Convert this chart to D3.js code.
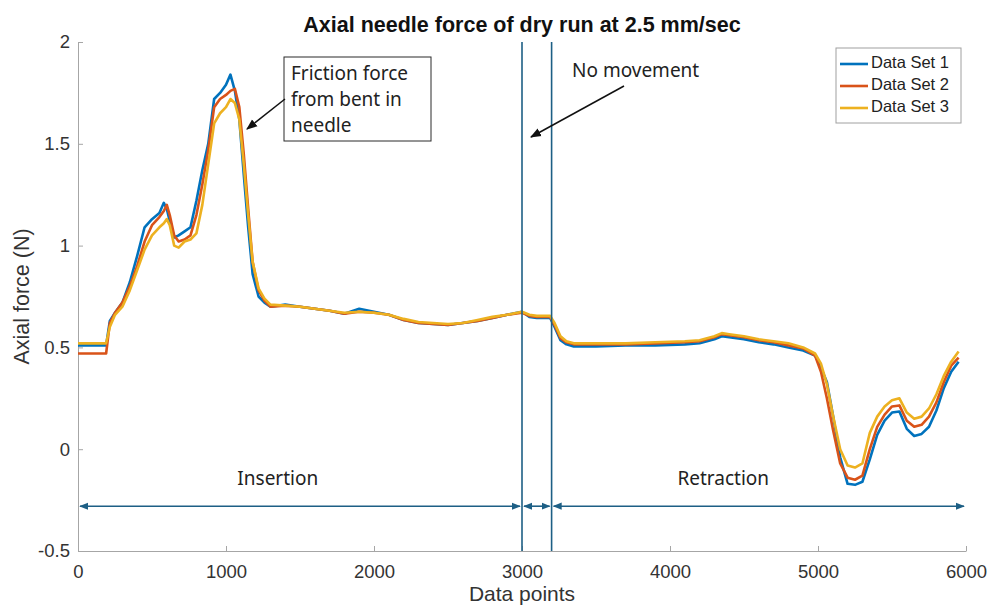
<!DOCTYPE html>
<html>
<head>
<meta charset="utf-8">
<script src="https://cdn.jsdelivr.net/npm/d3@7"></script>
<style>
  body { margin: 0; background: #fff; }
  svg { display: block; }
  .tick text { font-family: "Liberation Sans", Arial, sans-serif; font-size: 18.5px; fill: #333; }
  .note { font-family: "Noto Sans", "Open Sans", sans-serif; font-size: 19px; fill: #222; }
</style>
</head>
<body>
<div id="chart"></div>
<script>
// sample positions (data point index) shared by the three runs
const xPoints = [0, 190, 215, 250, 300, 350, 400, 450, 500, 550, 580, 600, 620, 650, 680, 720, 760, 800, 840, 880,
  920, 960, 1000, 1030, 1060, 1090, 1120, 1150, 1180, 1220, 1260, 1300, 1400, 1500, 1600, 1700, 1800, 1900, 2000,
  2100, 2200, 2300, 2400, 2500, 2600, 2700, 2800, 2900, 3000, 3050, 3100, 3190, 3220, 3260, 3300, 3350, 3500, 3700,
  3900, 4100, 4200, 4300, 4350, 4400, 4500, 4600, 4700, 4800, 4900, 4980, 5020, 5060, 5100, 5150, 5200, 5250, 5300,
  5350, 5400, 5450, 5500, 5550, 5600, 5650, 5700, 5750, 5800, 5850, 5900, 5950];

const set1 = [0.51, 0.51, 0.63, 0.67, 0.72, 0.82, 0.95, 1.09, 1.13, 1.16, 1.21, 1.18, 1.12, 1.04, 1.05, 1.07, 1.09, 1.22, 1.37, 1.50,
  1.72, 1.75, 1.79, 1.84, 1.76, 1.62, 1.35, 1.09, 0.86, 0.75, 0.72, 0.70, 0.71, 0.70, 0.69, 0.68, 0.665, 0.69, 0.675,
  0.66, 0.635, 0.62, 0.615, 0.61, 0.62, 0.63, 0.645, 0.66, 0.675, 0.65, 0.645, 0.645, 0.60, 0.535, 0.515, 0.505, 0.505, 0.51,
  0.51, 0.515, 0.52, 0.54, 0.555, 0.55, 0.54, 0.525, 0.515, 0.50, 0.485, 0.46, 0.40, 0.33, 0.17, -0.04, -0.17, -0.175, -0.16,
  -0.05, 0.07, 0.14, 0.18, 0.185, 0.10, 0.065, 0.075, 0.11, 0.19, 0.30, 0.38, 0.43];

const set2 = [0.47, 0.47, 0.62, 0.67, 0.72, 0.80, 0.90, 1.02, 1.10, 1.14, 1.17, 1.20, 1.15, 1.05, 1.02, 1.03, 1.05, 1.15, 1.30, 1.47,
  1.68, 1.72, 1.74, 1.76, 1.77, 1.68, 1.45, 1.18, 0.92, 0.78, 0.73, 0.70, 0.705, 0.70, 0.69, 0.68, 0.665, 0.675, 0.67,
  0.66, 0.635, 0.62, 0.615, 0.61, 0.62, 0.63, 0.645, 0.66, 0.67, 0.655, 0.65, 0.65, 0.61, 0.545, 0.525, 0.515, 0.515, 0.515,
  0.52, 0.525, 0.53, 0.55, 0.565, 0.56, 0.55, 0.535, 0.525, 0.51, 0.495, 0.46, 0.38, 0.25, 0.10, -0.07, -0.14, -0.15, -0.13,
  0.0, 0.11, 0.17, 0.21, 0.215, 0.14, 0.11, 0.12, 0.16, 0.23, 0.33, 0.41, 0.45];

const set3 = [0.52, 0.52, 0.60, 0.66, 0.70, 0.78, 0.88, 0.98, 1.05, 1.09, 1.11, 1.13, 1.10, 1.00, 0.99, 1.02, 1.03, 1.06, 1.20, 1.40,
  1.60, 1.65, 1.68, 1.72, 1.70, 1.62, 1.40, 1.15, 0.92, 0.79, 0.74, 0.71, 0.705, 0.70, 0.69, 0.68, 0.67, 0.675, 0.67,
  0.66, 0.64, 0.625, 0.62, 0.615, 0.62, 0.635, 0.65, 0.66, 0.675, 0.66, 0.655, 0.655, 0.62, 0.555, 0.53, 0.52, 0.52, 0.52,
  0.525, 0.53, 0.535, 0.555, 0.57, 0.565, 0.555, 0.54, 0.53, 0.52, 0.50, 0.47, 0.42, 0.32, 0.17, 0.0, -0.08, -0.09, -0.07,
  0.08, 0.16, 0.21, 0.24, 0.25, 0.18, 0.15, 0.16, 0.20, 0.27, 0.36, 0.43, 0.48];

const seriesNames = ["Data Set 1", "Data Set 2", "Data Set 3"];
const seriesColors = ["#0072BD", "#D95319", "#EDB120"];
const xTicks = [0, 1000, 2000, 3000, 4000, 5000, 6000];
const yTicks = [-0.5, 0, 0.5, 1, 1.5, 2];
const phaseBounds = [0, 3000, 3200, 6000];
const phaseLabels = [{ text: "Insertion", x: 1350 }, { text: "Retraction", x: 4360 }];

const width = 990, height = 608;
const margin = { top: 42, right: 24, bottom: 57, left: 78 };

const svg = d3.select("#chart").append("svg")
  .attr("width", width).attr("height", height);

const defs = svg.append("defs");
function arrowMarker(id, color, size, orient) {
  defs.append("marker")
    .attr("id", id).attr("viewBox", "0 0 10 10")
    .attr("refX", 9).attr("refY", 5)
    .attr("markerWidth", size).attr("markerHeight", size)
    .attr("markerUnits", "userSpaceOnUse")
    .attr("orient", orient)
    .append("path").attr("d", "M0,1 L10,5 L0,9 z").attr("fill", color);
}
arrowMarker("arrBlack", "#111", 11, "auto");
arrowMarker("arrBlueEnd", "#1d5f85", 9, "auto");
arrowMarker("arrBlueStart", "#1d5f85", 9, "auto-start-reverse");

const x = d3.scaleLinear().domain([0, 6000]).range([margin.left, width - margin.right]);
const y = d3.scaleLinear().domain([-0.5, 2]).range([height - margin.bottom, margin.top]);

// axes (MATLAB style, ticks inward, no box)
svg.append("g")
  .attr("transform", `translate(0,${height - margin.bottom})`)
  .call(d3.axisBottom(x).tickValues(xTicks).tickSize(-5).tickSizeOuter(0).tickPadding(14).tickFormat(d3.format("d")))
  .call(g => g.selectAll("line, path").attr("stroke", "#a6a6a6"));

svg.append("g")
  .attr("transform", `translate(${margin.left},0)`)
  .call(d3.axisLeft(y).tickValues(yTicks).tickSize(-5).tickSizeOuter(0).tickPadding(8).tickFormat(d => String(d)))
  .call(g => g.selectAll("line, path").attr("stroke", "#a6a6a6"));

svg.append("defs").append("clipPath").attr("id", "plotClip")
  .append("rect").attr("x", margin.left).attr("y", margin.top)
  .attr("width", width - margin.left - margin.right).attr("height", height - margin.top - margin.bottom);

const line = d3.line().x((d, i) => x(xPoints[i])).y(d => y(d));

const plot = svg.append("g").attr("clip-path", "url(#plotClip)");
[set1, set2, set3].forEach((s, i) => {
  plot.append("path")
    .datum(s)
    .attr("fill", "none")
    .attr("stroke", seriesColors[i])
    .attr("stroke-width", 2.6)
    .attr("stroke-linejoin", "round")
    .attr("d", line);
});

// phase boundaries
[3000, 3200].forEach(v => {
  svg.append("line")
    .attr("x1", x(v)).attr("x2", x(v))
    .attr("y1", margin.top).attr("y2", height - margin.bottom)
    .attr("stroke", "#1d5f85").attr("stroke-width", 1.6);
});

// double arrows along the bottom
const arrowY = y(-0.28);
for (let i = 0; i < phaseBounds.length - 1; i++) {
  svg.append("line")
    .attr("x1", x(phaseBounds[i]) + 2).attr("x2", x(phaseBounds[i + 1]) - 2)
    .attr("y1", arrowY).attr("y2", arrowY)
    .attr("stroke", "#1d5f85").attr("stroke-width", 1.6)
    .attr("marker-start", "url(#arrBlueStart)")
    .attr("marker-end", "url(#arrBlueEnd)");
}

phaseLabels.forEach(p => {
  svg.append("text").attr("class", "note")
    .attr("x", x(p.x)).attr("y", y(-0.15))
    .attr("text-anchor", "middle").attr("dominant-baseline", "middle")
    .text(p.text);
});

// annotation: friction
svg.append("rect")
  .attr("x", 284).attr("y", 57).attr("width", 147).attr("height", 84)
  .attr("fill", "#fff").attr("stroke", "#2b2b2b").attr("stroke-width", 1);
["Friction force", "from bent in", "needle"].forEach((t, i) => {
  svg.append("text").attr("class", "note")
    .attr("x", 291).attr("y", 80 + i * 26).text(t);
});
svg.append("line")
  .attr("x1", 285).attr("y1", 99).attr("x2", 247).attr("y2", 129)
  .attr("stroke", "#111").attr("stroke-width", 1.5)
  .attr("marker-end", "url(#arrBlack)");

// annotation: no movement
svg.append("text").attr("class", "note")
  .attr("x", 572).attr("y", 77).text("No movement");
svg.append("line")
  .attr("x1", 624).attr("y1", 86).attr("x2", 531).attr("y2", 137)
  .attr("stroke", "#111").attr("stroke-width", 1.5)
  .attr("marker-end", "url(#arrBlack)");

// title and axis labels
svg.append("text")
  .attr("x", (margin.left + width - margin.right) / 2).attr("y", 32)
  .attr("text-anchor", "middle")
  .style("font-family", "Liberation Sans, Arial, sans-serif")
  .style("font-size", "21.5px").style("font-weight", "bold").style("fill", "#111")
  .text("Axial needle force of dry run at 2.5 mm/sec");

svg.append("text")
  .attr("x", (margin.left + width - margin.right) / 2).attr("y", 601)
  .attr("text-anchor", "middle")
  .style("font-family", "Liberation Sans, Arial, sans-serif")
  .style("font-size", "21px").style("fill", "#333")
  .text("Data points");

svg.append("text")
  .attr("transform", `translate(29,${(margin.top + height - margin.bottom) / 2}) rotate(-90)`)
  .attr("text-anchor", "middle")
  .style("font-family", "Liberation Sans, Arial, sans-serif")
  .style("font-size", "21.5px").style("fill", "#333")
  .text("Axial force (N)");

// legend
const legend = svg.append("g").attr("transform", "translate(836,48)");
legend.append("rect").attr("width", 125).attr("height", 75)
  .attr("fill", "#fff").attr("stroke", "#a0a0a0").attr("stroke-width", 1);
seriesNames.forEach((name, i) => {
  const yy = 16 + i * 22;
  legend.append("line").attr("x1", 4).attr("x2", 32).attr("y1", yy).attr("y2", yy)
    .attr("stroke", seriesColors[i]).attr("stroke-width", 2.6);
  legend.append("text").attr("x", 35).attr("y", yy).attr("dominant-baseline", "middle")
    .style("font-family", "Liberation Sans, Arial, sans-serif")
    .style("font-size", "16.5px").style("fill", "#222")
    .text(name);
});
</script>
</body>
</html>
